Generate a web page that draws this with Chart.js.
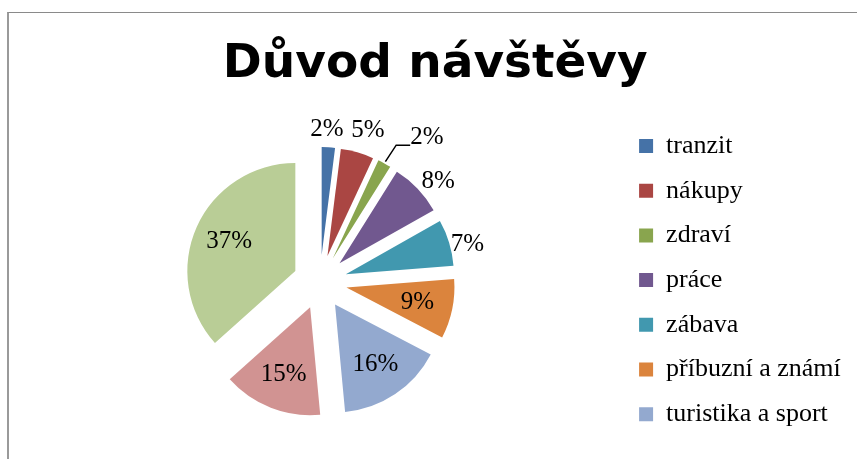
<!DOCTYPE html>
<html lang="cs">
<head>
<meta charset="utf-8">
<title>Důvod návštěvy</title>
<script src="https://cdn.jsdelivr.net/npm/chart.js@4.4.1/dist/chart.umd.min.js"></script>
<style>
  html, body { margin: 0; padding: 0; background: #fff; overflow: hidden; }
  #frame {
    position: absolute; left: 7px; top: 12px; width: 900px; height: 500px;
    border-left: 2px solid #9a9a9a; border-top: 1px solid #8a8a8a;
  }
  #wrap { position: absolute; left: 0; top: 0; width: 857px; height: 459px; }
</style>
</head>
<body>
<div id="frame"></div>
<div id="wrap"><canvas id="visitChart"></canvas></div>
<script>
// Data (shares in %)
const reasons = ['tranzit', 'nákupy', 'zdraví', 'práce', 'zábava', 'příbuzní a známí', 'turistika a sport', '', ''];
const shares = [2, 5, 2, 8, 7, 9, 16, 15, 37];
const sliceColors = ['#4572A7', '#AA4643', '#89A54E', '#71588F', '#4198AF', '#DB843D', '#93A9CF', '#D19392', '#B9CD96'];
// where each percentage label sits: inside the slice, outside, or outside with a leader line
const labelPlace = ['out', 'out', 'leader', 'out', 'out', 'in', 'in', 'in', 'in'];
// outside labels: distance past the slice edge (px) and small turn (deg) like Excel's best fit
const labelGap = [18, 24, 45, 20, 17, 0, 0, 0, 0];
const labelTurn = [-1, 1.5, 7.9, 3.4, 2.8, 0, 0, 0, 0];

const EXPLODE = 27;   // px every slice is pulled out from the centre
const RADIUS = 108;

// draw each arc shifted along its mid angle (exploded pie)
const explodePlugin = {
    id: 'explode',
    beforeDatasetDraw(chart, args) {
        const ctx = chart.ctx;
        args.meta.data.forEach(arc => {
            const mid = (arc.startAngle + arc.endAngle) / 2;
            ctx.save();
            ctx.translate(Math.cos(mid) * EXPLODE, Math.sin(mid) * EXPLODE);
            arc.draw(ctx);
            ctx.restore();
        });
        return false;
    }
};

// percentage labels
const pctLabels = {
    id: 'pctLabels',
    afterDatasetsDraw(chart) {
        const ctx = chart.ctx;
        const meta = chart.getDatasetMeta(0);
        ctx.save();
        ctx.font = '25px "Liberation Serif", "Times New Roman", serif';
        ctx.fillStyle = '#000';
        ctx.textAlign = 'center';
        ctx.textBaseline = 'middle';
        meta.data.forEach((arc, i) => {
            const mid = (arc.startAngle + arc.endAngle) / 2;
            const R = arc.outerRadius;
            const text = shares[i] + '%';
            const ang = mid + labelTurn[i] * Math.PI / 180;
            const r = labelPlace[i] === 'in' ? EXPLODE + R * 0.67 : EXPLODE + R + labelGap[i];
            const x = arc.x + Math.cos(ang) * r;
            const y = arc.y + Math.sin(ang) * r;
            if (labelPlace[i] === 'leader') {
                const half = ctx.measureText(text).width / 2;
                ctx.beginPath();
                ctx.strokeStyle = '#000';
                ctx.lineWidth = 1.5;
                ctx.moveTo(arc.x + Math.cos(mid) * (EXPLODE + R + 2), arc.y + Math.sin(mid) * (EXPLODE + R + 2));
                ctx.lineTo(x - half - 14, y + 8);
                ctx.lineTo(x - half, y + 8);
                ctx.stroke();
            }
            ctx.fillText(text, x, y);
        });
        ctx.restore();
    }
};

const ctx = document.getElementById('visitChart').getContext('2d');
new Chart(ctx, {
    type: 'pie',
    data: {
        labels: reasons,
        datasets: [{
            data: shares,
            backgroundColor: sliceColors,
            borderWidth: 0,
            radius: RADIUS
        }]
    },
    options: {
        responsive: true,
        maintainAspectRatio: false,
        animation: false,
        layout: { padding: { left: 19.6, right: 6.2, top: 2, bottom: 9.3 } },
        plugins: {
            title: {
                display: true,
                text: 'Důvod návštěvy',
                color: '#000',
                font: { family: 'DejaVu Sans', size: 47, weight: 'bold', lineHeight: 1.2 },
                padding: { top: 34.8, bottom: 21.1 }
            },
            legend: {
                position: 'right',
                align: 'start',
                fullSize: false,
                labels: {
                    color: '#000',
                    boxWidth: 14,
                    boxHeight: 14,
                    padding: 18.7,
                    font: { family: 'Liberation Serif', size: 26 },
                    // the last two entries fall outside the visible frame
                    filter: item => item.text !== ''
                }
            },
            tooltip: { enabled: false }
        }
    },
    plugins: [explodePlugin, pctLabels]
});
</script>
</body>
</html>
